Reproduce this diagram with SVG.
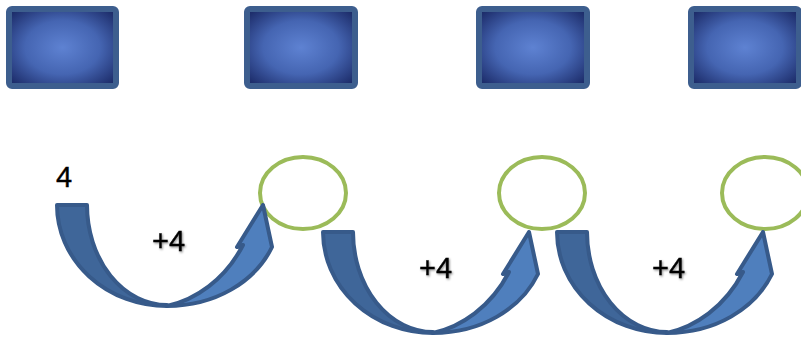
<svg xmlns="http://www.w3.org/2000/svg" width="801" height="338" viewBox="0 0 801 338">
<defs>
<radialGradient id="rg" cx="50%" cy="50%" r="70%">
<stop offset="0" stop-color="#5e82d2"/>
<stop offset="0.5" stop-color="#4565b2"/>
<stop offset="1" stop-color="#16235e"/>
</radialGradient>
<filter id="sh" x="-20%" y="-20%" width="150%" height="150%">
<feDropShadow dx="1" dy="1.2" stdDeviation="0.9" flood-color="#000" flood-opacity="0.45"/>
</filter>
<g id="arrow">
<path class="back" d="M57,205 L87,205 A80,100 0 0 0 167,305 L167,306 A110,101 0 0 1 57,205 Z"/>
<path class="front" d="M167,306 C215,306 255,282 272,247 L263,205 L237,247 L243,245 C225,280 195,300 167,306 Z"/>
</g>
</defs>
<style>
.box{fill:url(#rg);stroke:#3d5e8e;stroke-width:6}
.circ{fill:none;stroke:#9bbb59;stroke-width:4}
.back{fill:#3f6699;stroke:#375a8a;stroke-width:4;stroke-linejoin:round}
.front{fill:#4f7fbd;stroke:#375a8a;stroke-width:4;stroke-linejoin:round}
.lbl{font-family:"Liberation Sans",Arial,sans-serif;font-size:29px;fill:#000;stroke:#000;stroke-width:0.4}
.plus{filter:url(#sh)}
</style>
<g id="box1"><rect class="box" x="9" y="9" width="107" height="77" rx="3"/></g>
<g id="box2"><rect class="box" x="247" y="9" width="108" height="77" rx="3"/></g>
<g id="box3"><rect class="box" x="479" y="9" width="108" height="77" rx="3"/></g>
<g id="box4"><rect class="box" x="691" y="9" width="108" height="77" rx="3"/></g>
<g id="circle1"><ellipse class="circ" cx="303" cy="193" rx="43" ry="36"/></g>
<g id="circle2"><ellipse class="circ" cx="542" cy="193" rx="43" ry="36"/></g>
<g id="circle3"><ellipse class="circ" cx="765" cy="193" rx="43" ry="36"/></g>
<g id="connectors">
<use href="#arrow"/>
<use href="#arrow" transform="translate(266,27)"/>
<use href="#arrow" transform="translate(500,27)"/>
</g>
<g id="start"><text class="lbl" x="56" y="187" font-size="31">4</text></g>
<g id="step1"><text class="lbl plus" x="152" y="251">+4</text></g>
<g id="step2"><text class="lbl plus" x="419" y="278">+4</text></g>
<g id="step3"><text class="lbl plus" x="652" y="278">+4</text></g>
</svg>
